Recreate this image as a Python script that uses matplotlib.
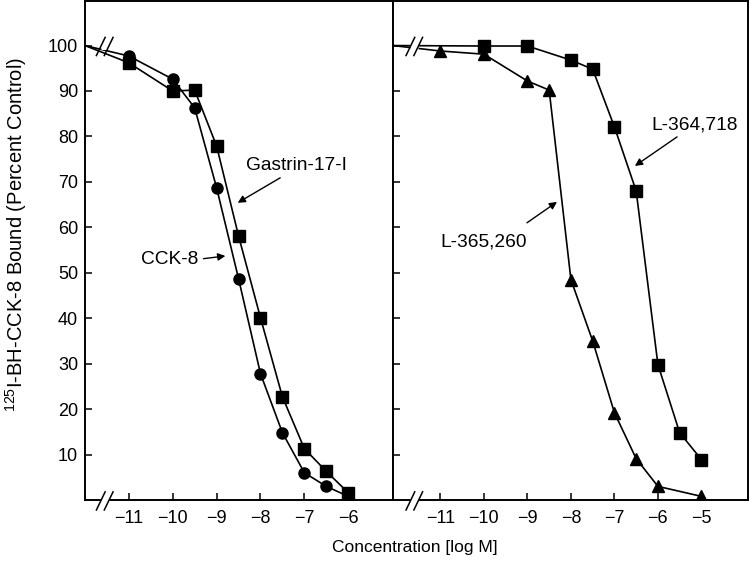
import matplotlib
matplotlib.use("Agg")
import matplotlib.pyplot as plt

plt.rcParams['font.family'] = ['Liberation Sans', 'DejaVu Sans']
plt.rcParams['mathtext.fontset'] = 'custom'
plt.rcParams['mathtext.rm'] = 'Liberation Sans'

# control binding (no competitor) drawn at the left edge of each panel
control = 100

# left panel: log M concentrations
conc_left = [-11, -10, -9.5, -9, -8.5, -8, -7.5, -7, -6.5, -6]
cck8 = [97.7, 92.6, 86.3, 68.7, 48.7, 27.8, 14.8, 6.0, 3.0, 0.8]
gastrin = [96.2, 90.0, 90.2, 77.9, 58.1, 40.1, 22.7, 11.3, 6.3, 1.6]

# right panel
conc_718 = [-10, -9, -8, -7.5, -7, -6.5, -6, -5.5, -5]
l364718 = [99.9, 99.9, 96.8, 94.8, 82.1, 68.0, 29.8, 14.8, 8.9]
conc_260 = [-11, -10, -9, -8.5, -8, -7.5, -7, -6.5, -6, -5]
l365260 = [98.8, 98.1, 92.2, 90.2, 48.5, 35.0, 19.2, 9.1, 3.0, 0.8]

yticks = [10, 20, 30, 40, 50, 60, 70, 80, 90, 100]
xticks_left = [-11, -10, -9, -8, -7, -6]
xticks_right = [-11, -10, -9, -8, -7, -6, -5]

fig = plt.figure(figsize=(7.5, 5.66), dpi=100)
axL = fig.add_axes([0.1133, 0.1166, 0.4107, 0.8816])
axR = fig.add_axes([0.524, 0.1166, 0.4733, 0.8816])

axL.set_xlim(-12, -4.98)
axR.set_xlim(-12.09, -3.93)
for ax in (axL, axR):
    ax.set_ylim(0, 109.8)
    ax.set_yticks(yticks)
    for s in ax.spines.values():
        s.set_linewidth(1.4)
    ax.tick_params(direction='in', length=5, width=1.1, labelsize=13, pad=5)
    ax.tick_params(axis='x', pad=7)

axL.set_yticklabels([str(v) for v in yticks])
axR.set_yticklabels([])
axL.set_xticks(xticks_left)
axL.set_xticklabels(['\u2212%d' % -v for v in xticks_left])
axR.set_xticks(xticks_right)
axR.set_xticklabels(['\u2212%d' % -v for v in xticks_right])

lk = dict(color='black', lw=1.2, ms=8, zorder=3)


def series(ax, xs, ys, marker):
    x0 = ax.get_xlim()[0]
    ax.plot([x0] + xs, [control] + ys, marker=marker, markevery=list(range(1, len(xs) + 1)), **lk)


series(axL, conc_left, gastrin, 's')
series(axL, conc_left, cck8, 'o')
series(axR, conc_718, l364718, 's')
series(axR, conc_260, l365260, '^')


def axis_break(ax, bx, y):
    # white gap plus two slashes
    g = 0.09
    ax.plot([bx - g, bx + g], [y, y], color='white', lw=5, zorder=6, clip_on=False,
            solid_capstyle='butt')
    for dx in (-g, g):
        ax.plot([bx + dx - 0.1, bx + dx + 0.1], [y - 2.2, y + 1.8], color='black', lw=1.1,
                zorder=7, clip_on=False)


axis_break(axL, -11.55, control)
axis_break(axL, -11.55, 0)
axis_break(axR, -11.6, control)
axis_break(axR, -11.6, 0)

fs = 13.8
ap = dict(arrowstyle='-|>', color='black', lw=1.0, mutation_scale=11, shrinkA=0, shrinkB=0)
axL.text(-8.32, 73.7, 'Gastrin-17-I', fontsize=fs, va='center', ha='left')
axL.annotate('', xy=(-8.52, 65.4), xytext=(-7.55, 70.9), arrowprops=ap)
axL.text(-9.41, 52.9, 'CCK-8', fontsize=fs, va='center', ha='right')
axL.annotate('', xy=(-8.8, 53.7), xytext=(-9.3, 53.1), arrowprops=ap)
axR.text(-6.14, 82.5, 'L-364,718', fontsize=fs, va='center', ha='left')
axR.annotate('', xy=(-6.53, 73.5), xytext=(-5.56, 79.9), arrowprops=ap)
axR.text(-11.01, 56.8, 'L-365,260', fontsize=fs, va='center', ha='left')
axR.annotate('', xy=(-8.32, 65.6), xytext=(-9.01, 61.0), arrowprops=ap)

fig.text(0.022, 0.585, '$^{125}$I-BH-CCK-8 Bound (Percent Control)', rotation=90,
         ha='center', va='center', fontsize=14.5)
fig.text(0.553, 0.032, 'Concentration [log M]', ha='center', va='center', fontsize=12.5)

fig.savefig('out.png', dpi=100)
